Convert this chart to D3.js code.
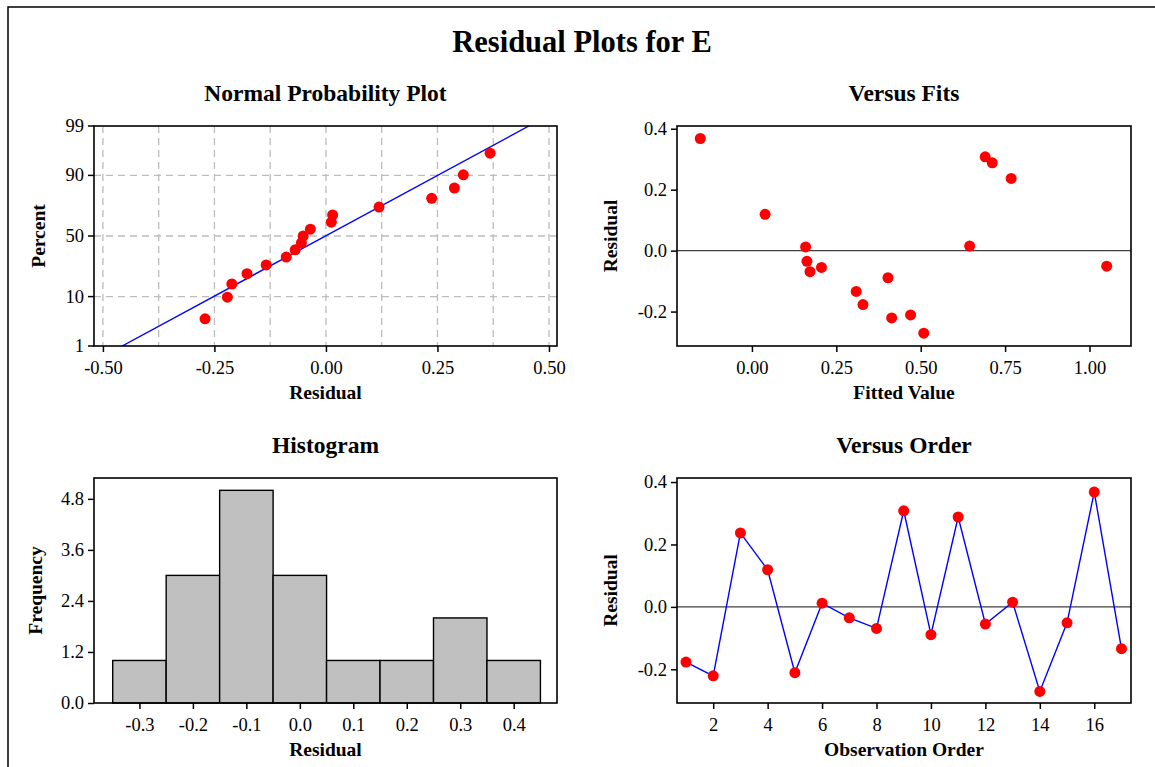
<!DOCTYPE html>
<html>
<head>
<meta charset="utf-8">
<script src="https://cdn.jsdelivr.net/npm/d3@7"></script>
<style>
body { margin: 0; background: #fff; }
text { font-family: "Liberation Serif", "Times New Roman", serif; fill: #000; }
</style>
</head>
<body>
<div id="chart"></div>
<script>
// residuals and fits, in observation order
observation = [1, 2, 3, 4, 5, 6, 7, 8, 9, 10, 11, 12, 13, 14, 15, 16, 17]
residuals = [-0.177, -0.221, 0.237, 0.119, -0.211, 0.012, -0.035, -0.069, 0.308,
             -0.089, 0.288, -0.055, 0.015, -0.271, -0.051, 0.368, -0.134]
fitted = [0.329, 0.414, 0.768, 0.039, 0.470, 0.159, 0.163, 0.172, 0.691,
          0.403, 0.712, 0.206, 0.645, 0.509, 1.051, -0.153, 0.309]

// plotted percent for each sorted residual (normal probability plot)
npPercent = [4.0, 9.8, 15.5, 21.3, 27.0, 32.8, 38.5, 44.3, 50.0,
             55.7, 61.5, 67.2, 73.0, 78.7, 84.5, 90.2, 96.0]
// fitted normal line, read at 1% and 99%
npLineResid = [-0.457, 0.455]
npLinePercent = [1, 99]

histMid = [-0.3, -0.2, -0.1, 0.0, 0.1, 0.2, 0.3, 0.4]
histFreq = [1, 3, 5, 3, 1, 1, 2, 1]
histBinWidth = 0.1

// ticks
npXTicks = [-0.5, -0.25, 0, 0.25, 0.5]
npXGrid = [-0.5, -0.375, -0.25, -0.125, 0, 0.125, 0.25, 0.375, 0.5]
npYTicks = [1, 10, 50, 90, 99]
npYGrid = [10, 50, 90]
fitXTicks = [0, 0.25, 0.5, 0.75, 1.0]
resYTicks = [-0.2, 0.0, 0.2, 0.4]
histXTicks = [-0.3, -0.2, -0.1, 0.0, 0.1, 0.2, 0.3, 0.4]
histYTicks = [0, 1.2, 2.4, 3.6, 4.8]
orderXTicks = [2, 4, 6, 8, 10, 12, 14, 16]

var W = 1155, H = 767

// inverse normal cdf (Acklam), used for the probability axis
function probit(p) {
    var a = [-3.969683028665376e+01, 2.209460984245205e+02, -2.759285104469687e+02, 1.383577518672690e+02, -3.066479806614716e+01, 2.506628277459239e+00]
    var b = [-5.447609879822406e+01, 1.615858368580409e+02, -1.556989798598866e+02, 6.680131188771972e+01, -1.328068155288572e+01]
    var c = [-7.784894002430293e-03, -3.223964580411365e-01, -2.400758277161838e+00, -2.549732539343734e+00, 4.374664141464968e+00, 2.938163982698783e+00]
    var d = [7.784695709041462e-03, 3.224671290700398e-01, 2.445134137142996e+00, 3.754408661907416e+00]
    var pl = 0.02425, q, r
    if (p < pl) {
        q = Math.sqrt(-2 * Math.log(p))
        return (((((c[0]*q+c[1])*q+c[2])*q+c[3])*q+c[4])*q+c[5]) / ((((d[0]*q+d[1])*q+d[2])*q+d[3])*q+1)
    } else if (p <= 1 - pl) {
        q = p - 0.5; r = q*q
        return (((((a[0]*r+a[1])*r+a[2])*r+a[3])*r+a[4])*r+a[5])*q / (((((b[0]*r+b[1])*r+b[2])*r+b[3])*r+b[4])*r+1)
    } else {
        q = Math.sqrt(-2 * Math.log(1 - p))
        return -(((((c[0]*q+c[1])*q+c[2])*q+c[3])*q+c[4])*q+c[5]) / ((((d[0]*q+d[1])*q+d[2])*q+d[3])*q+1)
    }
}

var svg = d3.select("#chart")
    .append("svg")
    .attr("width", W)
    .attr("height", H)

// outer frame (cut off on the right and bottom)
svg.append("rect")
    .attr("x", 8).attr("y", 7)
    .attr("width", 1200).attr("height", 800)
    .attr("fill", "none").attr("stroke", "#000").attr("stroke-width", 1.5)

svg.append("text")
    .attr("x", 582).attr("y", 52)
    .attr("text-anchor", "middle")
    .style("font-size", "30.5px").style("font-weight", "bold")
    .text("Residual Plots for E")

var panels = {
    npp:   {x0: 94,  x1: 557,  y0: 126, y1: 346},
    fits:  {x0: 677, x1: 1131, y0: 126, y1: 346},
    hist:  {x0: 94,  x1: 557,  y0: 478, y1: 703},
    order: {x0: 677, x1: 1131, y0: 478, y1: 703}
}

var fmt2 = function(d) { return d.toFixed(2) }
var fmt1 = function(d) { return d.toFixed(1) }

function frame(p, title, xlab, ylab, ylabX) {
    var g = svg.append("g")
    g.append("text")
        .attr("x", (p.x0 + p.x1) / 2).attr("y", p.y0 - 25)
        .attr("text-anchor", "middle")
        .style("font-size", "23.5px").style("font-weight", "bold")
        .text(title)
    g.append("text")
        .attr("x", (p.x0 + p.x1) / 2).attr("y", p.y1 + 53)
        .attr("text-anchor", "middle")
        .style("font-size", "19.5px").style("font-weight", "bold")
        .text(xlab)
    g.append("text")
        .attr("transform", "translate(" + ylabX + "," + ((p.y0 + p.y1) / 2) + ") rotate(-90)")
        .attr("text-anchor", "middle")
        .style("font-size", "19.5px").style("font-weight", "bold")
        .text(ylab)
    return g
}

function axes(p, x, y, xt, xf, yt, yf) {
    var ax = svg.append("g")
        .attr("transform", "translate(0," + p.y1 + ")")
        .call(d3.axisBottom(x).tickValues(xt).tickFormat(xf).tickSize(6).tickPadding(9).tickSizeOuter(0))
    var ay = svg.append("g")
        .attr("transform", "translate(" + p.x0 + ",0)")
        .call(d3.axisLeft(y).tickValues(yt).tickFormat(yf).tickSize(6).tickPadding(4).tickSizeOuter(0))
    ;[ax, ay].forEach(function(a) {
        a.select(".domain").remove()
        a.selectAll(".tick line").attr("stroke", "#000").attr("stroke-width", 1.5)
        a.selectAll(".tick text")
            .style("font-family", "'Liberation Serif', 'Times New Roman', serif")
            .style("font-size", "18.5px").attr("fill", "#000")
    })
}

function box(p) {
    svg.append("rect")
        .attr("x", p.x0).attr("y", p.y0)
        .attr("width", p.x1 - p.x0).attr("height", p.y1 - p.y0)
        .attr("fill", "none").attr("stroke", "#000").attr("stroke-width", 1.6)
}

function clipFor(id, p) {
    svg.append("clipPath").attr("id", id)
        .append("rect")
        .attr("x", p.x0).attr("y", p.y0)
        .attr("width", p.x1 - p.x0).attr("height", p.y1 - p.y0)
}

// ---- Normal Probability Plot ----
var p = panels.npp
frame(p, "Normal Probability Plot", "Residual", "Percent", 45)
var xN = d3.scaleLinear().domain([-0.52, 0.518]).range([p.x0, p.x1])
var zN = d3.scaleLinear().domain([probit(0.01), probit(0.99)]).range([p.y1, p.y0])
var yN = function(pc) { return zN(probit(pc / 100)) }

svg.append("g").selectAll("line")
    .data(npXGrid).enter().append("line")
    .attr("x1", function(d) { return xN(d) }).attr("x2", function(d) { return xN(d) })
    .attr("y1", p.y0).attr("y2", p.y1)
    .attr("stroke", "#bdbdbd").attr("stroke-width", 1.3).attr("stroke-dasharray", "7,5")
svg.append("g").selectAll("line")
    .data(npYGrid).enter().append("line")
    .attr("x1", p.x0).attr("x2", p.x1)
    .attr("y1", function(d) { return yN(d) }).attr("y2", function(d) { return yN(d) })
    .attr("stroke", "#bdbdbd").attr("stroke-width", 1.3).attr("stroke-dasharray", "7,5")

clipFor("clipN", p)
svg.append("path")
    .datum(d3.zip(npLineResid, npLinePercent))
    .attr("clip-path", "url(#clipN)")
    .attr("fill", "none").attr("stroke", "#0000ff").attr("stroke-width", 1.4)
    .attr("d", d3.line().x(function(d) { return xN(d[0]) }).y(function(d) { return yN(d[1]) }))

var sorted = residuals.slice().sort(function(a, b) { return a - b })
svg.append("g").selectAll("circle")
    .data(d3.zip(sorted, npPercent)).enter().append("circle")
    .attr("cx", function(d) { return xN(d[0]) })
    .attr("cy", function(d) { return yN(d[1]) })
    .attr("r", 5.5).attr("fill", "#ff0000")

// y axis on the probability scale, drawn by hand
var ayN = svg.append("g")
npYTicks.forEach(function(t) {
    ayN.append("line").attr("x1", p.x0 - 6).attr("x2", p.x0)
        .attr("y1", yN(t)).attr("y2", yN(t)).attr("stroke", "#000").attr("stroke-width", 1.5)
    ayN.append("text").attr("x", p.x0 - 10).attr("y", yN(t)).attr("dy", "0.32em")
        .attr("text-anchor", "end").style("font-size", "18.5px").text(t)
})
var axN = svg.append("g")
    .attr("transform", "translate(0," + p.y1 + ")")
    .call(d3.axisBottom(xN).tickValues(npXTicks).tickFormat(fmt2).tickSize(6).tickPadding(9).tickSizeOuter(0))
axN.select(".domain").remove()
axN.selectAll(".tick line").attr("stroke", "#000").attr("stroke-width", 1.5)
axN.selectAll(".tick text").style("font-family", "'Liberation Serif', serif").style("font-size", "18.5px").attr("fill", "#000")
box(p)

// ---- Versus Fits ----
p = panels.fits
frame(p, "Versus Fits", "Fitted Value", "Residual", 617)
var xF = d3.scaleLinear().domain([-0.222, 1.123]).range([p.x0, p.x1])
var yF = d3.scaleLinear().domain([-0.313, 0.409]).range([p.y1, p.y0])
svg.append("line")
    .attr("x1", p.x0).attr("x2", p.x1).attr("y1", yF(0)).attr("y2", yF(0))
    .attr("stroke", "#404040").attr("stroke-width", 1.3)
svg.append("g").selectAll("circle")
    .data(d3.zip(fitted, residuals)).enter().append("circle")
    .attr("cx", function(d) { return xF(d[0]) })
    .attr("cy", function(d) { return yF(d[1]) })
    .attr("r", 5.5).attr("fill", "#ff0000")
axes(p, xF, yF, fitXTicks, fmt2, resYTicks, fmt1)
box(p)

// ---- Histogram ----
p = panels.hist
frame(p, "Histogram", "Residual", "Frequency", 42)
var xH = d3.scaleLinear().domain([-0.385, 0.481]).range([p.x0, p.x1])
var yH = d3.scaleLinear().domain([0, 5.29]).range([p.y1, p.y0])
svg.append("g").selectAll("rect")
    .data(d3.zip(histMid, histFreq)).enter().append("rect")
    .attr("x", function(d) { return xH(d[0] - histBinWidth / 2) })
    .attr("width", function(d) { return xH(d[0] + histBinWidth / 2) - xH(d[0] - histBinWidth / 2) })
    .attr("y", function(d) { return yH(d[1]) })
    .attr("height", function(d) { return yH(0) - yH(d[1]) })
    .attr("fill", "#c0c0c0").attr("stroke", "#000").attr("stroke-width", 1.4)
axes(p, xH, yH, histXTicks, fmt1, histYTicks, fmt1)
box(p)

// ---- Versus Order ----
p = panels.order
frame(p, "Versus Order", "Observation Order", "Residual", 617)
var xO = d3.scaleLinear().domain([0.67, 17.35]).range([p.x0, p.x1])
var yO = d3.scaleLinear().domain([-0.308, 0.413]).range([p.y1, p.y0])
svg.append("line")
    .attr("x1", p.x0).attr("x2", p.x1).attr("y1", yO(0)).attr("y2", yO(0))
    .attr("stroke", "#404040").attr("stroke-width", 1.3)
svg.append("path")
    .datum(d3.zip(observation, residuals))
    .attr("fill", "none").attr("stroke", "#0000ff").attr("stroke-width", 1.4)
    .attr("d", d3.line().x(function(d) { return xO(d[0]) }).y(function(d) { return yO(d[1]) }))
svg.append("g").selectAll("circle")
    .data(d3.zip(observation, residuals)).enter().append("circle")
    .attr("cx", function(d) { return xO(d[0]) })
    .attr("cy", function(d) { return yO(d[1]) })
    .attr("r", 5.5).attr("fill", "#ff0000")
axes(p, xO, yO, orderXTicks, function(d) { return d }, resYTicks, fmt1)
box(p)
</script>
</body>
</html>
